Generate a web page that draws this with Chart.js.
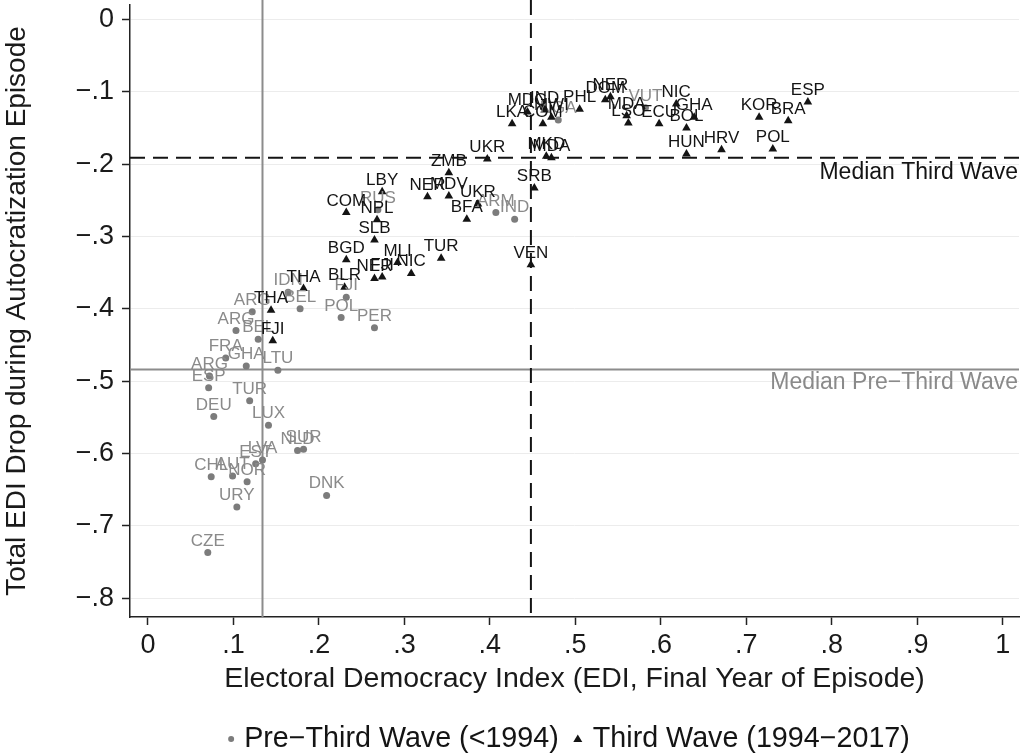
<!DOCTYPE html>
<html>
<head>
<meta charset="utf-8">
<script src="https://cdn.jsdelivr.net/npm/chart.js@4.4.1/dist/chart.umd.min.js"></script>
<style>
  html, body { margin: 0; padding: 0; background: #fff; }
</style>
</head>
<body>
<canvas id="chart" width="1024" height="754"></canvas>
<script>
const FONT = '"Liberation Sans", Arial, Helvetica, sans-serif';

// pre-third wave episodes (< 1994)
const preLabels = ['CZE', 'URY', 'DNK', 'CHL', 'AUT', 'NOR', 'EST', 'LVA', 'NLD', 'SUR',
  'LUX', 'DEU', 'TUR', 'ESP', 'ARG', 'GHA', 'FRA', 'LTU', 'BEL', 'ARG',
  'ARG', 'BEL', 'IDN', 'POL', 'FJI', 'PER', 'RUS', 'ARM', 'IND', 'NGA', 'VUT'];
const preX = [0.070, 0.104, 0.209, 0.074, 0.099, 0.116, 0.126, 0.134, 0.175, 0.182,
  0.141, 0.077, 0.119, 0.071, 0.072, 0.115, 0.091, 0.152, 0.129, 0.103,
  0.122, 0.178, 0.164, 0.226, 0.232, 0.265, 0.269, 0.407, 0.429, 0.480, 0.582];
const preY = [-0.737, -0.674, -0.658, -0.632, -0.631, -0.639, -0.614, -0.609, -0.596, -0.594,
  -0.561, -0.549, -0.527, -0.509, -0.493, -0.479, -0.468, -0.485, -0.442, -0.430,
  -0.404, -0.400, -0.377, -0.412, -0.384, -0.426, -0.263, -0.267, -0.276, -0.139, -0.122];

// third wave episodes (1994-2017)
const thirdLabels = ['LKA', 'MDG', 'IND', 'COM', 'MWI', 'PHL', 'DOM', 'NER', 'MDA', 'LSO',
  'ECU', 'NIC', 'GHA', 'BOL', 'HUN', 'HRV', 'KOR', 'BRA', 'ESP', 'POL',
  'MKD', 'MDA', 'UKR', 'ZMB', 'SRB', 'LBY', 'NER', 'MDV', 'UKR', 'BFA',
  'COM', 'NPL', 'SLB', 'BGD', 'MLI', 'NIC', 'NER', 'FJI', 'TUR', 'VEN',
  'BLR', 'THA', 'THA', 'FJI'];
const thirdX = [0.426, 0.444, 0.464, 0.462, 0.472, 0.505, 0.535, 0.541, 0.560, 0.562,
  0.598, 0.618, 0.639, 0.630, 0.630, 0.671, 0.715, 0.749, 0.772, 0.731,
  0.466, 0.472, 0.397, 0.352, 0.452, 0.274, 0.327, 0.352, 0.386, 0.373,
  0.232, 0.268, 0.265, 0.232, 0.292, 0.308, 0.265, 0.274, 0.343, 0.448,
  0.230, 0.182, 0.144, 0.146];
const thirdY = [-0.144, -0.128, -0.125, -0.144, -0.135, -0.124, -0.111, -0.107, -0.133, -0.143,
  -0.144, -0.117, -0.135, -0.150, -0.186, -0.180, -0.135, -0.140, -0.114, -0.179,
  -0.189, -0.191, -0.193, -0.212, -0.233, -0.238, -0.245, -0.244, -0.255, -0.276,
  -0.267, -0.277, -0.305, -0.332, -0.336, -0.351, -0.358, -0.356, -0.330, -0.339,
  -0.370, -0.372, -0.402, -0.444];

// medians
const medianPre = { x: 0.134, y: -0.484 };
const medianThird = { x: 0.448, y: -0.191 };

const xTicks = [0, 0.1, 0.2, 0.3, 0.4, 0.5, 0.6, 0.7, 0.8, 0.9, 1];
const yTicks = [-0.8, -0.7, -0.6, -0.5, -0.4, -0.3, -0.2, -0.1, 0];

const GRAY = '#7c7c7c';
const GRAY_TXT = '#8a8a8a';
const BLACK = '#141414';

function fmt(v) {
  if (Math.abs(v) < 1e-9) return '0';
  if (Math.abs(v - 1) < 1e-9) return '1';
  const s = Math.abs(v).toFixed(1).replace(/^0/, '');
  return (v < 0 ? '\u2212' : '') + s;
}

// median reference lines, drawn under the markers
const medianLines = {
  id: 'medianLines',
  beforeDatasetsDraw(chart) {
    const { ctx, chartArea: a, scales: { x, y } } = chart;
    ctx.save();
    ctx.lineWidth = 2;
    ctx.strokeStyle = '#8c8c8c';
    let px = x.getPixelForValue(medianPre.x);
    let py = y.getPixelForValue(medianPre.y);
    ctx.beginPath();
    ctx.moveTo(px, 0); ctx.lineTo(px, a.bottom);
    ctx.moveTo(a.left, py); ctx.lineTo(a.right, py);
    ctx.stroke();
    ctx.strokeStyle = BLACK;
    ctx.setLineDash([15, 8]);
    px = x.getPixelForValue(medianThird.x);
    py = y.getPixelForValue(medianThird.y);
    ctx.beginPath();
    ctx.moveTo(px, 0); ctx.lineTo(px, a.bottom);
    ctx.moveTo(a.left, py); ctx.lineTo(a.right, py);
    ctx.stroke();
    ctx.setLineDash([]);

    ctx.font = '23px ' + FONT;
    ctx.textAlign = 'right';
    ctx.textBaseline = 'alphabetic';
    ctx.fillStyle = BLACK;
    ctx.fillText('Median Third Wave', a.right - 1, py + 21);
    ctx.fillStyle = GRAY_TXT;
    ctx.fillText('Median Pre\u2212Third Wave', a.right - 1, y.getPixelForValue(medianPre.y) + 19);
    ctx.restore();
  }
};

// country codes above each marker
const pointLabels = {
  id: 'pointLabels',
  afterDatasetsDraw(chart) {
    const ctx = chart.ctx;
    ctx.save();
    ctx.font = '17px ' + FONT;
    ctx.textAlign = 'center';
    ctx.textBaseline = 'alphabetic';
    chart.data.datasets.forEach((ds, di) => {
      const meta = chart.getDatasetMeta(di);
      ctx.fillStyle = ds.labelColor;
      meta.data.forEach((pt, i) => {
        ctx.fillText(ds.names[i], pt.x, pt.y - 7);
      });
    });
    ctx.restore();
  }
};

// legend below the axis title
const bottomLegend = {
  id: 'bottomLegend',
  afterDraw(chart) {
    const { ctx, chartArea: a } = chart;
    const t1 = 'Pre\u2212Third Wave (<1994)';
    const t2 = 'Third Wave (1994\u22122017)';
    ctx.save();
    ctx.font = '28.7px ' + FONT;
    ctx.textBaseline = 'middle';
    ctx.textAlign = 'left';
    const w1 = ctx.measureText(t1).width;
    const w2 = ctx.measureText(t2).width;
    const total = 13 + w1 + 19 + 15 + w2;
    let cx = (a.left + a.right) / 2 - 4 - total / 2;
    const cy = 739;
    ctx.fillStyle = GRAY;
    ctx.beginPath();
    ctx.arc(cx, cy, 3, 0, Math.PI * 2);
    ctx.fill();
    cx += 13;
    ctx.fillStyle = BLACK;
    ctx.fillText(t1, cx, cy);
    cx += w1 + 19;
    ctx.beginPath();
    ctx.moveTo(cx, cy - 4.5);
    ctx.lineTo(cx + 4.5, cy + 3);
    ctx.lineTo(cx - 4.5, cy + 3);
    ctx.closePath();
    ctx.fill();
    cx += 15;
    ctx.fillText(t2, cx, cy);
    ctx.restore();
  }
};

const preData = preX.map((v, i) => ({ x: v, y: preY[i] }));
const thirdData = thirdX.map((v, i) => ({ x: v, y: thirdY[i] }));

Chart.defaults.font.family = FONT;

new Chart(document.getElementById('chart').getContext('2d'), {
  type: 'scatter',
  data: {
    datasets: [
      {
        label: 'Pre\u2212Third Wave (<1994)',
        data: preData,
        names: preLabels,
        labelColor: GRAY_TXT,
        pointStyle: 'circle',
        pointRadius: 3.5,
        backgroundColor: GRAY,
        borderWidth: 0,
      },
      {
        label: 'Third Wave (1994\u22122017)',
        data: thirdData,
        names: thirdLabels,
        labelColor: BLACK,
        pointStyle: 'triangle',
        pointRadius: 5,
        backgroundColor: BLACK,
        borderWidth: 0,
      },
    ],
  },
  options: {
    responsive: false,
    animation: false,
    layout: { padding: { top: 5, right: 4, bottom: 55, left: 0 } },
    plugins: {
      legend: { display: false },
      tooltip: { enabled: false },
    },
    scales: {
      x: {
        type: 'linear',
        min: -0.021,
        max: 1.019,
        afterBuildTicks: (ax) => { ax.ticks = xTicks.map(v => ({ value: v })); },
        afterFit: (ax) => { ax.height = 82; ax.paddingLeft = 0; ax.paddingRight = 0; },
        ticks: {
          callback: (v) => fmt(v),
          font: { size: 27 },
          color: '#1a1a1a',
          padding: 4,
          maxRotation: 0,
          autoSkip: false,
        },
        grid: { drawOnChartArea: false, tickLength: 8, tickColor: '#222', tickWidth: 1.5 },
        border: { color: '#222', width: 1.5 },
        title: {
          display: true,
          text: 'Electoral Democracy Index (EDI, Final Year of Episode)',
          font: { size: 28.5 },
          color: '#1a1a1a',
          padding: { top: 0, bottom: 3 },
        },
      },
      y: {
        type: 'linear',
        min: -0.826,
        max: 0.02,
        afterBuildTicks: (ax) => { ax.ticks = yTicks.map(v => ({ value: v })); },
        afterFit: (ax) => { ax.width = 130; ax.paddingTop = 0; ax.paddingBottom = 0; },
        ticks: {
          callback: (v) => fmt(v),
          font: { size: 27 },
          color: '#1a1a1a',
          padding: 8,
          autoSkip: false,
        },
        grid: { color: '#ececec', lineWidth: 1, tickLength: 8, tickColor: '#222', tickWidth: 1.5 },
        border: { color: '#222', width: 1.5 },
        title: {
          display: true,
          text: 'Total EDI Drop during Autocratization Episode',
          font: { size: 28 },
          color: '#1a1a1a',
          padding: { top: 0, bottom: 0 },
        },
      },
    },
  },
  plugins: [medianLines, pointLabels, bottomLegend],
});
</script>
</body>
</html>
